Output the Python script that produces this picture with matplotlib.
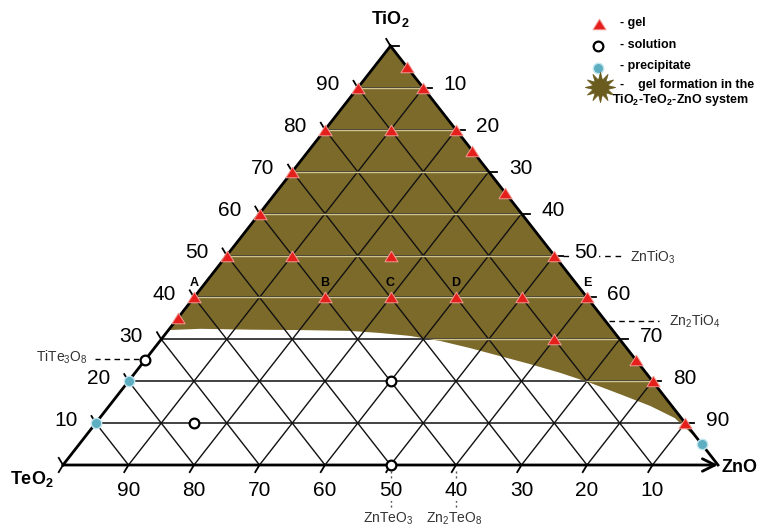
import numpy as np
import matplotlib
matplotlib.use("Agg")
import matplotlib.pyplot as plt
from matplotlib.patches import Polygon

plt.rcParams["font.family"] = ["Liberation Sans", "DejaVu Sans"]
plt.rcParams["mathtext.fontset"] = "custom"
plt.rcParams["mathtext.rm"] = "Liberation Sans"
plt.rcParams["mathtext.bf"] = "Liberation Sans:bold"
plt.rcParams["mathtext.it"] = "Liberation Sans:italic"

# ---- data (mol %) : each point given as (TiO2, ZnO); TeO2 = 100 - TiO2 - ZnO
grid_values = [10, 20, 30, 40, 50, 60, 70, 80, 90]
left_labels = ["10", "20", "30", "40", "50", "60", "70", "80", "90"]      # TiO2
right_labels = ["90", "80", "70", "60", "50", "40", "30", "20", "10"]     # ZnO
bottom_labels = ["90", "80", "70", "60", "50", "40", "30", "20", "10"]    # TeO2

gel_tio2 = [95, 90, 90, 80, 80, 80, 75, 70, 65, 60, 50, 50, 50, 50,
            40, 40, 40, 40, 40, 40, 35, 30, 25, 20, 10]
gel_zno = [5, 0, 10, 0, 10, 20, 25, 0, 35, 0, 0, 10, 25, 50,
           0, 20, 30, 40, 50, 60, 0, 60, 75, 80, 90]

solution_tio2 = [25, 20, 10, 0]
solution_zno = [0, 40, 15, 50]

precip_tio2 = [20, 10, 5]
precip_zno = [0, 0, 95]

point_names = ["A", "B", "C", "D", "E"]
named_tio2 = [40, 40, 40, 40, 40]
named_zno = [0, 20, 30, 40, 60]

# lower border of the gel-formation field
field_tio2 = [32.2, 32.5, 32.3, 32.2, 32.0, 31.5, 30.8, 29.6, 27.9, 26.0,
              24.1, 22.0, 19.6, 16.9, 14.1, 11.2, 6.0]
field_zno = [0.0, 4.7, 12.4, 20.1, 27.8, 32.7, 37.6, 42.8, 48.2, 53.7,
             59.2, 64.9, 70.7, 76.6, 82.6, 87.8, 94.0]

# -------------------------------------------------------------------------
W, H = 767, 527
fig = plt.figure(figsize=(W / 100, H / 100), dpi=100)
ax = fig.add_axes([0, 0, 1, 1])
ax.set_axis_off()

# axis frame: TeO2 corner at (63, 465) px, 655 px wide, 419 px tall
X0, Y0, SW, SH = 63, 465, 655, 419
ax.set_xlim(-X0 / SW, (W - X0) / SW)
ax.set_ylim(-(H - Y0) / SH, Y0 / SH)

PT = 0.72  # points per pixel at 100 dpi


def tern(tio2, zno):
    t = np.asarray(tio2, dtype=float) / 100.0
    a = np.asarray(zno, dtype=float) / 100.0
    return a + t / 2.0, t


BROWN = "#7c6a2b"

# gel-formation field
fx, fy = tern(field_tio2, field_zno)
top = tern(100, 0)
verts = [top] + list(zip(fx, fy)) + [top]
field = Polygon(verts, closed=True, facecolor=BROWN, edgecolor="none", zorder=1)
ax.add_patch(field)

# grid
for v in grid_values:
    # constant TiO2 (horizontal)
    x, y = tern([v, v], [0, 100 - v])
    ax.plot(x, y, color="#222222", lw=1.2, zorder=2, solid_capstyle="butt")
    hl, = ax.plot(x, y, color="#d2c48e", lw=1.0, zorder=2.5)
    hl.set_clip_path(field)
    # constant ZnO
    x, y = tern([0, 100 - v], [v, v])
    ax.plot(x, y, color="#111111", lw=1.0, zorder=2)
    # constant TeO2
    x, y = tern([0, 100 - v], [100 - v, 0])
    ax.plot(x, y, color="#111111", lw=1.0, zorder=2)

# edges
x, y = tern([0, 100], [0, 0])
ax.plot(x, y, color="k", lw=2.0, zorder=3)
x, y = tern([100, 0], [0, 100])
ax.plot(x, y, color="k", lw=2.0, zorder=3)
x0, y0 = tern(0, 0)
x1, y1 = tern(0, 100)
ax.annotate("", xy=(x1, y1), xytext=(x0, y0),
            arrowprops=dict(arrowstyle="->,head_length=0.9,head_width=0.45",
                            lw=2.0, color="k", shrinkA=0, shrinkB=0), zorder=3)

# edge ticks
d = 0.013
for v in [0] + grid_values + [100]:
    # TiO2 axis (left edge)
    x, y = tern(v, 0)
    ax.plot([x, x - d / 2], [y, y + d * 1.3], color="k", lw=1.3, zorder=3)
    # ZnO axis (right edge)
    if v > 0:
        x, y = tern(v, 100 - v)
        ax.plot([x, x + d], [y, y], color="k", lw=1.3, zorder=3)
    # TeO2 axis (bottom edge)
    if v < 100:
        x, y = tern(0, v)
        ax.plot([x, x - d / 2], [y, y - d * 1.3], color="k", lw=1.3, zorder=3)

# tick labels
for v, lab in zip(grid_values, left_labels):
    x, y = tern(v, 0)
    ax.annotate(lab, (x, y), xytext=(-30 * PT, 3 * PT), textcoords="offset points",
                ha="center", va="center", fontsize=15, zorder=4)
for v, lab in zip(grid_values, right_labels):
    x, y = tern(v, 100 - v)
    ax.annotate(lab, (x, y), xytext=(32 * PT, 3 * PT), textcoords="offset points",
                ha="center", va="center", fontsize=15, zorder=6,
                bbox=dict(facecolor="white", edgecolor="none", pad=0.5))
for v, lab in zip(grid_values, bottom_labels):
    x, y = tern(0, v)
    ax.annotate(lab, (x, y), xytext=(0, -26 * PT), textcoords="offset points",
                ha="center", va="center", fontsize=15, zorder=6,
                bbox=dict(facecolor="white", edgecolor="none", pad=0.5))

# corner labels
x, y = tern(100, 0)
ax.annotate(r"TiO$_\mathbf{2}$", (x, y), xytext=(0, 27 * PT), textcoords="offset points",
            ha="center", va="center", fontsize=13, fontweight="bold")
x, y = tern(0, 0)
ax.annotate(r"TeO$_\mathbf{2}$", (x, y), xytext=(-31 * PT, -14 * PT), textcoords="offset points",
            ha="center", va="center", fontsize=13, fontweight="bold")
x, y = tern(0, 100)
ax.annotate("ZnO", (x, y), xytext=(22 * PT, -3 * PT), textcoords="offset points",
            ha="center", va="center", fontsize=13, fontweight="bold")

# compound annotations
ANN = "#333333"
x, y = tern(25, 0)
ax.plot([x - 6 / SW, x - 50 / SW], [y + 1 / SH, y + 1 / SH], color="k", lw=1.0,
        ls=(0, (4, 3)), zorder=3)
ax.annotate(r"TiTe$_3$O$_8$", (x, y), xytext=(-57 * PT, 3 * PT), textcoords="offset points",
            ha="right", va="center", fontsize=10, color=ANN)

x, y = tern(50, 50)
ax.plot([x + 9 / SW, x + 68 / SW], [y, y], color="k", lw=1.0, ls=(0, (4, 3.5)), zorder=3)
ax.annotate(r"ZnTiO$_3$", (x, y), xytext=(76 * PT, -2 * PT), textcoords="offset points",
            ha="left", va="center", fontsize=10, color=ANN)

x, y = tern(100 / 3, 200 / 3)
ax.plot([x, x + 50 / SW], [y + 4 / SH, y + 4 / SH], color="k", lw=1.0, ls=(0, (4, 3)), zorder=3)
ax.annotate(r"Zn$_2$TiO$_4$", (x, y), xytext=(60 * PT, 4 * PT), textcoords="offset points",
            ha="left", va="center", fontsize=10, color=ANN)

for zno_val, name in [(50, r"ZnTeO$_3$"), (60, r"Zn$_2$TeO$_8$")]:
    x, y = tern(0, zno_val)
    ax.plot([x, x], [y - 6 / SH, y - 44 / SH], color="#555555", lw=1.0,
            ls=(0, (1.5, 2)), zorder=3)
    ax.annotate(name, (x, y), xytext=(-2 * PT, -54 * PT), textcoords="offset points",
                ha="center", va="center", fontsize=10, color=ANN)

# experimental points
tri = [(-1, -0.8), (1, -0.8), (0, 0.8), (-1, -0.8)]
gx, gy = tern(gel_tio2, gel_zno)
ax.plot(gx, gy, ls="none", marker=tri, ms=9.5, mfc="#e41f1c", mec="#f29a92",
        mew=0.7, zorder=5)

sx, sy = tern(solution_tio2, solution_zno)
ax.plot(sx, sy, ls="none", marker="o", ms=7, mfc="white", mec="k", mew=1.6, zorder=5)

px_, py_ = tern(precip_tio2, precip_zno)
ax.plot(px_, py_, ls="none", marker="o", ms=7.5, mfc="#5eaec2", mec="#c4e6ef",
        mew=1.0, zorder=5)

nx, ny = tern(named_tio2, named_zno)
for name, x, y in zip(point_names, nx, ny):
    ax.annotate(name, (x, y), xytext=(0, 14 * PT), textcoords="offset points",
                ha="center", va="center", fontsize=9, fontweight="bold", zorder=6)


# legend
def fpos(px, py):
    return px / W, 1 - py / H


tf = fig.transFigure
lx, ly = fpos(599, 24)
ax.plot([lx], [ly], transform=tf, marker=tri, ms=9.5, mfc="#e41f1c", mec="#f29a92",
        mew=0.7, ls="none", clip_on=False)
lx, ly = fpos(598, 46)
ax.plot([lx], [ly], transform=tf, marker="o", ms=7, mfc="white", mec="k", mew=1.6,
        ls="none", clip_on=False)
lx, ly = fpos(598, 68)
ax.plot([lx], [ly], transform=tf, marker="o", ms=7.5, mfc="#5eaec2", mec="#c4e6ef",
        mew=1.0, ls="none", clip_on=False)
lx, ly = fpos(600, 87)
ax.plot([lx], [ly], transform=tf, marker=(12, 1, 0), ms=22, mfc="#6a5c1f", mec="#6a5c1f",
        mew=0.5, ls="none", clip_on=False)

legend_rows = [("- gel", 620, 23), ("- solution", 620, 45), ("- precipitate", 620, 66),
               ("-    gel formation in the", 620, 85)]
for txt, px, py in legend_rows:
    fx_, fy_ = fpos(px, py)
    fig.text(fx_, fy_, txt, ha="left", va="center", fontsize=9, fontweight="bold")
fx_, fy_ = fpos(612, 100)
fig.text(fx_, fy_, r"TiO$_\mathbf{2}$-TeO$_\mathbf{2}$-ZnO system", ha="left", va="center",
         fontsize=9, fontweight="bold")

fig.savefig("out.png", dpi=100, facecolor="white")
